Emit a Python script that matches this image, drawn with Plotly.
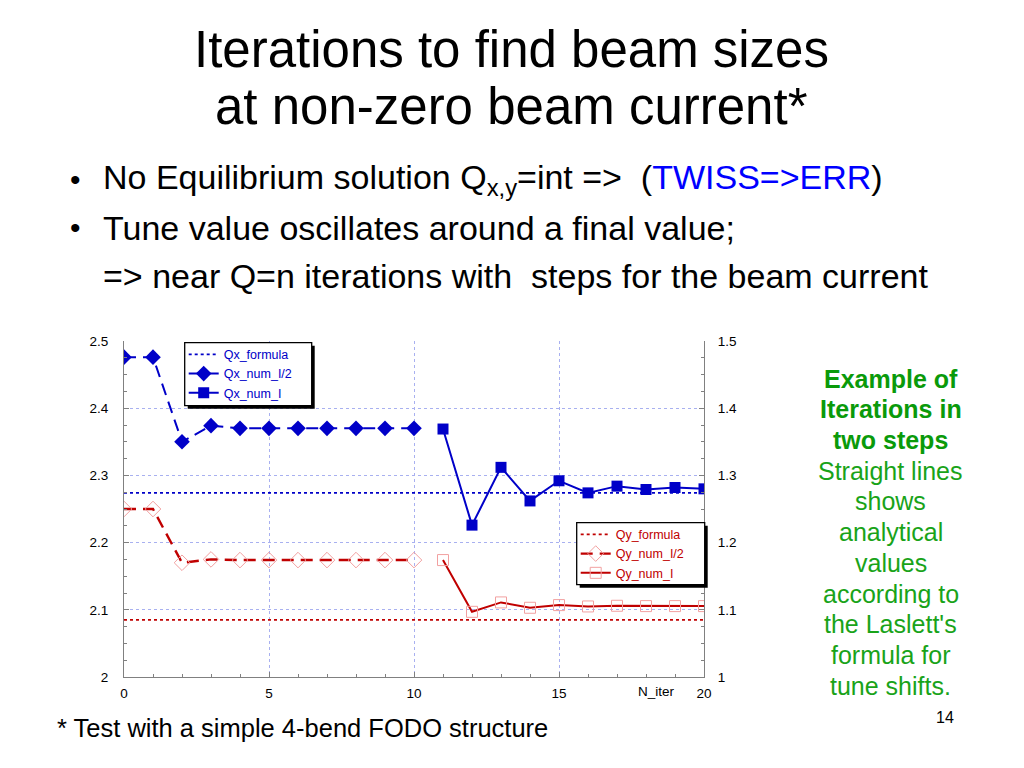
import plotly.graph_objects as go

# ---------------- data ----------------
iter_half = [0, 1, 2, 3, 4, 5, 6, 7, 8, 9, 10]
iter_full = [11, 12, 13, 14, 15, 16, 17, 18, 19, 20]
iter_formula = [0, 20]

qx_num_half = [2.476, 2.476, 2.350, 2.374, 2.370, 2.370, 2.370, 2.370, 2.370, 2.370, 2.370]
qx_num_full = [2.369, 2.226, 2.312, 2.262, 2.292, 2.274, 2.284, 2.279, 2.282, 2.280]
qx_formula = [2.274, 2.274]

qy_num_half = [1.250, 1.250, 1.170, 1.175, 1.174, 1.174, 1.174, 1.174, 1.174, 1.174, 1.174]
qy_num_full = [1.174, 1.097, 1.111, 1.103, 1.107, 1.105, 1.106, 1.1055, 1.1055, 1.1055]
qy_formula = [1.085, 1.085]

left_ticks = [2, 2.1, 2.2, 2.3, 2.4, 2.5]
left_tick_text = ["2", "2.1", "2.2", "2.3", "2.4", "2.5"]
right_ticks = [1, 1.1, 1.2, 1.3, 1.4, 1.5]
right_tick_text = ["1", "1.1", "1.2", "1.3", "1.4", "1.5"]
x_ticks = [0, 5, 10, 15, 20]
x_tick_text = ["0", "5", "10", "15", "20"]

# ---------------- layout geometry (page pixels) ----------------
OFF = 8  # page body margin
W, H = 1024 - 2 * OFF, 768 - 2 * OFF
PL, PR, PT, PB = 124.3, 704.3, 341.3, 677.3


def px(x):
    return (x - PL) / (PR - PL)


def py(y):
    return (PB - y) / (PB - PT)


BLUE = "#0000c8"
RED = "#c00000"
PINK = "#f2a0a0"
GRID = "#a8b0f0"
GREEN = "#19a319"
FONT = "Liberation Sans, Arial, sans-serif"

fig = go.Figure()

fig.add_trace(go.Scatter(x=iter_formula, y=qx_formula, mode="lines", name="Qx_formula",
                         line=dict(color=BLUE, width=1.6, dash="dot"), legend="legend"))
fig.add_trace(go.Scatter(x=iter_half, y=qx_num_half, mode="lines+markers", name="Qx_num_I/2",
                         line=dict(color=BLUE, width=2, dash="12px,7px"),
                         marker=dict(symbol="diamond", size=12, color=BLUE), legend="legend"))
fig.add_trace(go.Scatter(x=iter_full, y=qx_num_full, mode="lines+markers", name="Qx_num_I",
                         line=dict(color=BLUE, width=2),
                         marker=dict(symbol="square", size=11, color=BLUE), legend="legend"))

fig.add_trace(go.Scatter(x=iter_formula, y=qy_formula, mode="lines", name="Qy_formula",
                         line=dict(color=RED, width=1.6, dash="dot"), yaxis="y2", legend="legend2"))
fig.add_trace(go.Scatter(x=iter_half, y=qy_num_half, mode="lines+markers", name="Qy_num_I/2",
                         line=dict(color=RED, width=2.4, dash="12px,7px"),
                         marker=dict(symbol="diamond-open", size=12, color=PINK, line=dict(width=1)),
                         yaxis="y2", legend="legend2"))
fig.add_trace(go.Scatter(x=iter_full, y=qy_num_full, mode="lines+markers", name="Qy_num_I",
                         line=dict(color=RED, width=2),
                         marker=dict(symbol="square-open", size=11, color=PINK, line=dict(width=1)),
                         yaxis="y2", legend="legend2"))

axis_common = dict(
    showgrid=True, gridcolor=GRID, griddash="dot", gridwidth=1,
    ticks="inside", ticklen=5, tickcolor="#808080",
    tickfont=dict(family=FONT, size=13.5, color="black"),
    showline=True, linecolor="#808080", linewidth=1, zeroline=False,
)

fig.update_layout(
    width=W, height=H,
    margin=dict(l=PL - OFF, r=W - (PR - OFF), t=PT - OFF, b=H - (PB - OFF), pad=0),
    paper_bgcolor="white", plot_bgcolor="white",
    showlegend=True,
    xaxis=dict(range=[0, 20], tickvals=x_ticks, ticktext=x_tick_text, ticklabelstandoff=4,
               minor=dict(dtick=1, tick0=0, ticks="inside", ticklen=3, tickcolor="#808080", showgrid=False),
               **axis_common),
    yaxis=dict(range=[2, 2.5], tickvals=left_ticks, ticktext=left_tick_text, ticklabelstandoff=12,
               minor=dict(dtick=0.025, tick0=2, ticks="inside", ticklen=3, tickcolor="#808080", showgrid=False),
               **axis_common),
    yaxis2=dict(range=[1, 1.5], tickvals=right_ticks, ticktext=right_tick_text, overlaying="y", side="right",
                ticklabelstandoff=10,
                minor=dict(dtick=0.025, tick0=1, ticks="inside", ticklen=3, tickcolor="#808080"),
                ticks="inside", ticklen=5, tickcolor="#808080", showgrid=False,
                tickfont=dict(family=FONT, size=13.5, color="black"),
                showline=True, linecolor="#808080", linewidth=1, zeroline=False),
    legend=dict(x=px(184), y=py(340), xanchor="left", yanchor="top",
                bgcolor="rgba(0,0,0,0)", borderwidth=0,
                font=dict(family=FONT, size=12.5, color=BLUE), tracegroupgap=0,
                itemwidth=30),
    legend2=dict(x=px(576), y=py(520), xanchor="left", yanchor="top",
                 bgcolor="rgba(0,0,0,0)", borderwidth=0,
                 font=dict(family=FONT, size=12.5, color=RED), tracegroupgap=0,
                 itemwidth=30),
)

# legend frames with drop shadows
for (x0, y0, x1, y1) in [(185, 343, 312, 406), (577, 523, 705, 585)]:
    fig.add_shape(type="rect", xref="paper", yref="paper",
                  x0=px(x0 + 3), x1=px(x1 + 3), y0=py(y1 + 3), y1=py(y0 + 3),
                  fillcolor="black", line=dict(width=0), layer="above")
    fig.add_shape(type="rect", xref="paper", yref="paper",
                  x0=px(x0), x1=px(x1), y0=py(y1), y1=py(y0),
                  fillcolor="white", line=dict(width=1.3, color="black"), layer="above")

annotations = []


def txt(x, y, text, size, color="black", xanchor="left", bold=False):
    if bold:
        text = "<b>" + text + "</b>"
    annotations.append(dict(x=px(x), y=py(y), xref="paper", yref="paper", text=text, showarrow=False,
                            xanchor=xanchor, yanchor="middle",
                            font=dict(family=FONT, size=size, color=color)))


# title
txt(512, 50, "Iterations to find beam sizes", 51, xanchor="center")
txt(512, 107, "at non-zero beam current*", 51, xanchor="center")

# bullets
txt(68, 180, "•", 30)
txt(101, 180, "No Equilibrium solution Q<sub>x,y</sub>=int =>  (<span style='color:#0000ff'>TWISS=>ERR</span>)", 34)
txt(68, 228, "•", 30)
txt(101, 228, "Tune value oscillates around a final value;", 34)
txt(101, 276, "=> near Q=n iterations with  steps for the beam current", 34)

# green side text
green_bold = ["Example of", "Iterations in", "two steps"]
green_plain = ["Straight lines", "shows", "analytical", "values", "according to",
               "the Laslett's", "formula for", "tune shifts."]
yy = 379
for line in green_bold:
    txt(891, yy, line, 25, color="#0a9a0a", xanchor="center", bold=True)
    yy += 30.7
for line in green_plain:
    txt(891, yy, line, 25, color=GREEN, xanchor="center")
    yy += 30.7

# axis label
txt(657, 692, "N_iter", 13.5, xanchor="center")

# footnote & page number
txt(55, 728, "* Test with a simple 4-bend FODO structure", 25.5)
txt(945, 718, "14", 16, xanchor="center")

fig.update_layout(annotations=annotations)

fig.write_html("out.html")
